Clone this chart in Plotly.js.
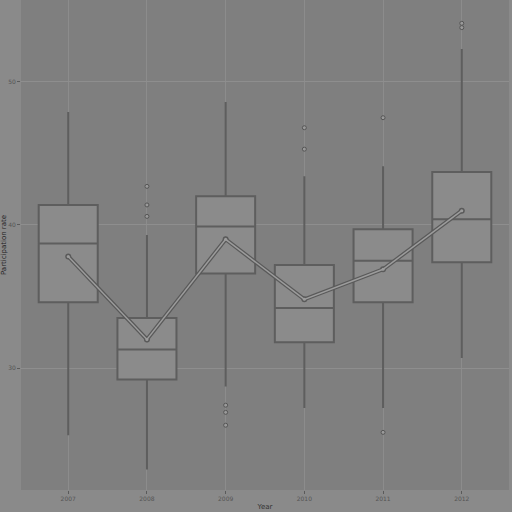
<!DOCTYPE html>
<html>
<head>
<meta charset="utf-8">
<script src="https://cdn.plot.ly/plotly-3.0.1.min.js"></script>
<style>
  html, body { margin: 0; padding: 0; background: #8a8a8a; }
  #chart { width: 512px; height: 512px; }
</style>
</head>
<body>
<div id="chart"></div>
<script>
// one value per year
let years = ["2007", "2008", "2009", "2010", "2011", "2012"];
let lower_whisker = [25.3, 22.9, 28.7, 27.2, 27.2, 30.7];
let q1_values = [34.6, 29.2, 36.6, 31.8, 34.6, 37.4];
let median_values = [38.7, 31.3, 39.9, 34.2, 37.5, 40.4];
let q3_values = [41.4, 33.5, 42.0, 37.2, 39.7, 43.7];
let upper_whisker = [47.9, 39.3, 48.6, 43.4, 44.1, 52.3];
let mean_values = [37.8, 32.0, 39.0, 34.8, 36.9, 41.0];

// outliers, paired year / value
let outlier_years = ["2008", "2008", "2008", "2009", "2009", "2009", "2010", "2010", "2011", "2011", "2012", "2012"];
let outlier_values = [42.7, 41.4, 40.6, 27.4, 26.9, 26.0, 46.8, 45.3, 47.5, 25.5, 54.1, 53.8];

let y_ticks = [30, 40, 50];

let boxes = {
    type: 'box',
    x: years,
    q1: q1_values,
    median: median_values,
    q3: q3_values,
    lowerfence: lower_whisker,
    upperfence: upper_whisker,
    width: 0.75,
    whiskerwidth: 0,
    fillcolor: '#8b8b8b',
    line: { color: '#5e5e5e', width: 2 },
    boxpoints: false,
    hoverinfo: 'skip',
    showlegend: false
};

let outliers = {
    type: 'scatter',
    mode: 'markers',
    x: outlier_years,
    y: outlier_values,
    marker: { size: 4, color: '#9a9a9a', line: { color: '#555555', width: 1 } },
    showlegend: false
};

let mean_outline = {
    type: 'scatter',
    mode: 'lines+markers',
    x: years,
    y: mean_values,
    line: { color: '#5a5a5a', width: 4 },
    marker: { size: 6, color: '#5a5a5a' },
    showlegend: false
};

let mean_line = {
    type: 'scatter',
    mode: 'lines+markers',
    x: years,
    y: mean_values,
    line: { color: '#9c9c9c', width: 1.5 },
    marker: { size: 3, color: '#9c9c9c' },
    showlegend: false
};

let data = [boxes, outliers, mean_outline, mean_line];

let layout = {
    width: 512,
    height: 512,
    paper_bgcolor: '#8a8a8a',
    plot_bgcolor: '#7f7f7f',
    margin: { l: 21, r: 3, t: 0, b: 22 },
    font: { family: 'DejaVu Sans', size: 7, color: '#4a4a4a' },
    xaxis: {
        type: 'category',
        range: [-0.6, 5.6],
        showgrid: true,
        gridcolor: '#8c8c8c',
        gridwidth: 1,
        zeroline: false,
        ticks: 'outside',
        ticklen: 3,
        tickcolor: '#5a5a5a',
        tickfont: { size: 6, color: '#555555' },
        title: { text: 'Year', font: { size: 7, color: '#333333' }, standoff: 2 }
    },
    yaxis: {
        range: [21.47, 55.73],
        tickvals: y_ticks,
        showgrid: true,
        gridcolor: '#8e8e8e',
        gridwidth: 1,
        zeroline: false,
        ticks: 'outside',
        ticklen: 3,
        tickcolor: '#5a5a5a',
        tickfont: { size: 6, color: '#555555' },
        title: { text: 'Participation rate', font: { size: 7, color: '#222222' }, standoff: 2 }
    }
};

Plotly.newPlot('chart', data, layout, { displayModeBar: false, staticPlot: true });
</script>
</body>
</html>
